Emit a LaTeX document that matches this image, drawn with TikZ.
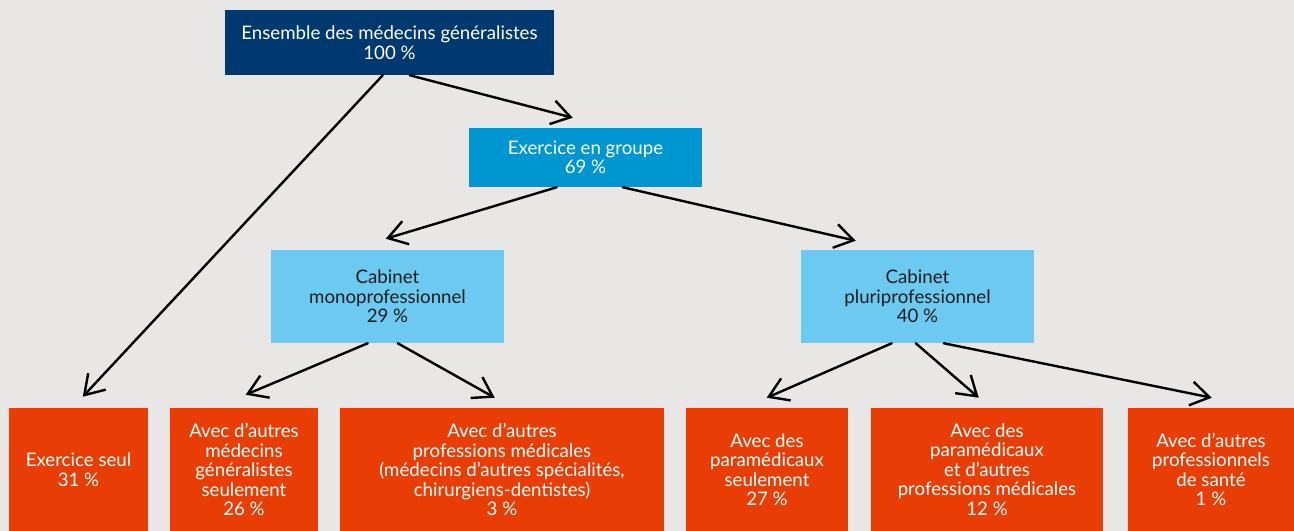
\documentclass[tikz,border=0pt]{standalone}
\usepackage{fontspec}
\setmainfont{Lato}
\usetikzlibrary{arrows.meta,calc}
\definecolor{bg}{RGB}{232,231,229}
\definecolor{navy}{RGB}{0,57,112}
\definecolor{midblue}{RGB}{0,150,210}
\definecolor{lightblue}{RGB}{108,201,239}
\definecolor{orangebox}{RGB}{232,62,6}
\definecolor{darktext}{RGB}{30,30,30}
\begin{document}
\begin{tikzpicture}[x=0.75pt,y=-0.75pt,
  box/.style={rectangle, inner sep=0pt, align=center,
    font=\fontsize{14}{14.6}\selectfont},
  topbox/.style={box, fill=navy, text=white},
  groupbox/.style={box, fill=midblue, text=white},
  cabbox/.style={box, fill=lightblue, text=darktext},
  leafbox/.style={box, fill=orangebox, text=white, minimum height=123*0.75pt},
  arr/.style={line width=1.8pt, line cap=round,
    -{Straight Barb[length=14pt,width=18pt,line width=1.8pt]}}]
\useasboundingbox[fill=bg] (0,0) rectangle (1294,531);
\clip (0,0) rectangle (1294,531);

\node[topbox, minimum width=329*0.75pt, minimum height=65*0.75pt] (top) at (389.5,42.5)
  {Ensemble des médecins généralistes\\100 \%};
\node[groupbox, minimum width=233*0.75pt, minimum height=59*0.75pt] (grp) at (585.5,157.5)
  {Exercice en groupe\\69 \%};
\node[cabbox, minimum width=233*0.75pt, minimum height=93*0.75pt] (mono) at (387.5,296.5)
  {Cabinet\\monoprofessionnel\\29 \%};
\node[cabbox, minimum width=233*0.75pt, minimum height=93*0.75pt] (pluri) at (917.5,296.5)
  {Cabinet\\pluriprofessionnel\\40 \%};

\node[leafbox, minimum width=139*0.75pt] (seul) at (78.5,469.5)
  {Exercice seul\\31 \%};
\node[leafbox, minimum width=148*0.75pt] (med) at (244,469.5)
  {Avec d’autres\\médecins\\généralistes\\seulement\\26 \%};
\node[leafbox, minimum width=324*0.75pt] (prof) at (502,469.5)
  {Avec d’autres\\professions médicales\\(médecins d’autres spécialités,\\chirurgiens-dentistes)\\3 \%};
\node[leafbox, minimum width=162*0.75pt] (para) at (767,469.5)
  {Avec des\\paramédicaux\\seulement\\27 \%};
\node[leafbox, minimum width=232*0.75pt] (paraut) at (987,469.5)
  {Avec des\\paramédicaux\\et d’autres\\professions médicales\\12 \%};
\node[leafbox, minimum width=166*0.75pt] (autres) at (1211,469.5)
  {Avec d’autres\\professionnels\\de santé\\1 \%};

\draw[arr] ($(top.south west)+(158,0)$) -- ($(seul.north west)+(74,-11)$);
\draw[arr] ($(top.south west)+(185,0)$) -- ($(grp.north west)+(104,-10)$);
\draw[arr] ($(grp.south west)+(88,0)$) -- ($(mono.north west)+(115,-11)$);
\draw[arr] ($(grp.south west)+(154,0)$) -- ($(pluri.north west)+(55,-9)$);
\draw[arr] ($(mono.south west)+(97,0)$) -- ($(med.north west)+(76,-13)$);
\draw[arr] ($(mono.south west)+(127,0)$) -- ($(prof.north west)+(155,-10)$);
\draw[arr] ($(pluri.south west)+(91,0)$) -- ($(para.north west)+(81,-10)$);
\draw[arr] ($(pluri.south west)+(115,0)$) -- ($(paraut.north west)+(108,-10)$);
\draw[arr] ($(pluri.south west)+(143,0)$) -- ($(autres.north west)+(84,-10)$);
\end{tikzpicture}
\end{document}
